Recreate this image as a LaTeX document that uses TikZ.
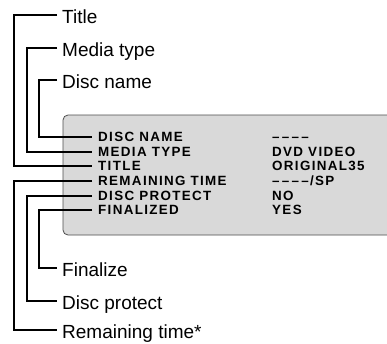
\documentclass[tikz,border=0pt]{standalone}
\usepackage{fontspec}
\setmainfont{Liberation Sans}
\newfontfamily\panelfont[LetterSpace=10]{Liberation Sans Bold}

\begin{document}
\begin{tikzpicture}[x=1pt,y=-1pt,
    callout/.style={anchor=west,inner xsep=5pt,inner ysep=0pt,text height=17pt,text depth=0pt,font=\fontsize{19}{21}\selectfont},
    row/.style={anchor=west,inner xsep=6pt,inner ysep=0pt,text height=9.6pt,text depth=0pt,font=\fontsize{13.4}{15}\selectfont\panelfont},
    wire/.style={line width=2.6pt}]
  \useasboundingbox (0,0) rectangle (387,343);
  \clip (0,0) rectangle (387,343);

  % Display panel
  \draw[fill=gray!30,draw=black!70,line width=0.8pt,rounded corners=5pt] (63,115) rectangle (400,235);

  % Panel rows
  \node[row] (rName)  at (92,137) {DISC NAME};
  \node[row] (rMedia) at (92,152) {MEDIA TYPE};
  \node[row] (rTitle) at (92,166) {TITLE};
  \node[row] (rTime)  at (92,181) {REMAINING TIME};
  \node[row] (rProt)  at (92,196) {DISC PROTECT};
  \node[row] (rFin)   at (92,210) {FINALIZED};

  % Panel values
  \node[row] (vName)  at (266,137) {\textendash\,\textendash\,\textendash\,\textendash};
  \node[row] (vMedia) at (266,152) {DVD VIDEO};
  \node[row] (vTitle) at (266,166) {ORIGINAL35};
  \node[row] (vTime)  at (266,181) {\textendash\,\textendash\,\textendash\,\textendash/SP};
  \node[row] (vProt)  at (266,196) {NO};
  \node[row] (vFin)   at (266,210) {YES};

  % Callout labels
  \node[callout] (lTitle) at (57,15)  {Title};
  \node[callout] (lMedia) at (57,48)  {Media type};
  \node[callout] (lName)  at (57,80)  {Disc name};
  \node[callout] (lFin)   at (57,268) {Finalize};
  \node[callout] (lProt)  at (57,301) {Disc protect};
  \node[callout] (lTime)  at (57,330) {Remaining time*};

  % Rails
  \coordinate (outer) at (14,0);
  \coordinate (mid)   at (27,0);
  \coordinate (inner) at (39,0);

  % Connectors
  \draw[wire] (lTitle.west) -- (lTitle.west -| outer) |- (rTitle.west);
  \draw[wire] (lMedia.west) -- (lMedia.west -| mid) |- (rMedia.west);
  \draw[wire] (lName.west) -- (lName.west -| inner) |- (rName.west);
  \draw[wire] (rTime.west) -- (rTime.west -| outer) |- (lTime.west);
  \draw[wire] (rProt.west) -- (rProt.west -| mid) |- (lProt.west);
  \draw[wire] (rFin.west) -- (rFin.west -| inner) |- (lFin.west);
\end{tikzpicture}
\end{document}
